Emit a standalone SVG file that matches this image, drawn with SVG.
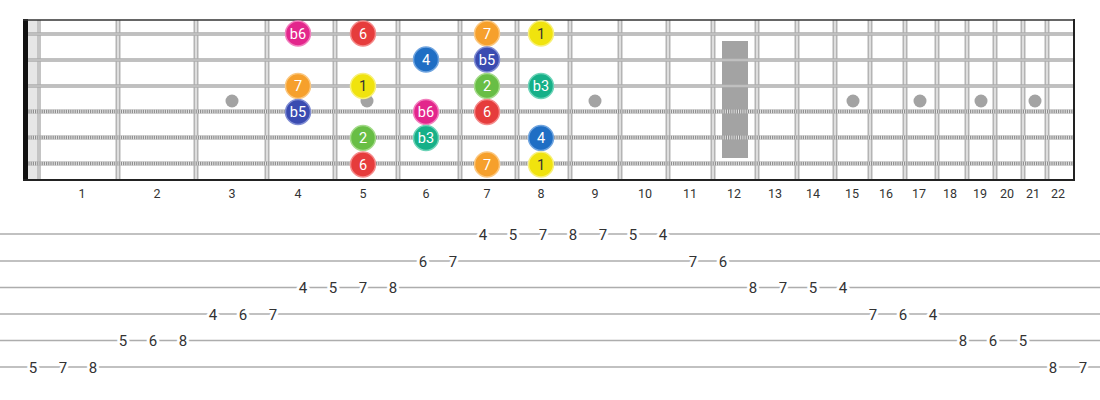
<svg xmlns="http://www.w3.org/2000/svg" width="1100" height="400" viewBox="0 0 1100 400">
<style>
.fret{fill:#b4b4b4}
.fretin{fill:#f0f0f0}
.plain{stroke:#adadad;stroke-width:3.5}
.plainc{stroke:#dcdcdc;stroke-width:0.8}
.wound{stroke:#8f8f8f;stroke-width:4}
.woundp{stroke:#e4e4e4;stroke-width:4;stroke-dasharray:1 1.2}
.inlay{fill:#a3a3a3}
.fn{font-family:Roboto,"Liberation Sans",sans-serif;font-size:12.5px;fill:#333;text-anchor:middle}
.tl{stroke:#adadad;stroke-width:1.6}
.tn{font-family:Roboto,"Liberation Sans",sans-serif;font-size:15px;fill:#333;text-anchor:middle;stroke:#fff;stroke-width:6;paint-order:stroke;stroke-linejoin:round}
.nt{font-family:Roboto,"Liberation Sans",sans-serif;font-size:14.5px;fill:#fff;text-anchor:middle}
.nt1{fill:#333}
.c-b6{fill:#e3268c;stroke:#f27fbd}
.c-6{fill:#e63c3c;stroke:#f48a8a}
.c-7{fill:#f6a02c;stroke:#fbc77f}
.c-1{fill:#f0e30e;stroke:#f8f07a}
.c-4{fill:#1f6ec4;stroke:#6fa4df}
.c-b5{fill:#3a4bb1;stroke:#7f8cd3}
.c-2{fill:#68be45;stroke:#a4da8a}
.c-b3{fill:#16b088;stroke:#6cd3b7}
circle.n{stroke-width:1.5}
</style>
<g id="fretboard">
<rect x="23" y="20" width="1052" height="160" fill="#fff"/>
<rect x="28" y="20" width="13" height="160" fill="#e6e6e6"/>
<rect x="37" y="20" width="4" height="160" fill="#c4c4c4"/>
<g id="frets">
<rect class="fret" x="115.5" y="20" width="5" height="160"/><rect class="fretin" x="117.3" y="20" width="1.4" height="160"/>
<rect class="fret" x="193.5" y="20" width="5" height="160"/><rect class="fretin" x="195.3" y="20" width="1.4" height="160"/>
<rect class="fret" x="264.5" y="20" width="5" height="160"/><rect class="fretin" x="266.3" y="20" width="1.4" height="160"/>
<rect class="fret" x="332.5" y="20" width="5" height="160"/><rect class="fretin" x="334.3" y="20" width="1.4" height="160"/>
<rect class="fret" x="395.5" y="20" width="5" height="160"/><rect class="fretin" x="397.3" y="20" width="1.4" height="160"/>
<rect class="fret" x="457.5" y="20" width="5" height="160"/><rect class="fretin" x="459.3" y="20" width="1.4" height="160"/>
<rect class="fret" x="514.5" y="20" width="5" height="160"/><rect class="fretin" x="516.3" y="20" width="1.4" height="160"/>
<rect class="fret" x="567.5" y="20" width="5" height="160"/><rect class="fretin" x="569.3" y="20" width="1.4" height="160"/>
<rect class="fret" x="617.5" y="20" width="5" height="160"/><rect class="fretin" x="619.3" y="20" width="1.4" height="160"/>
<rect class="fret" x="665.5" y="20" width="5" height="160"/><rect class="fretin" x="667.3" y="20" width="1.4" height="160"/>
<rect class="fret" x="710.5" y="20" width="5" height="160"/><rect class="fretin" x="712.3" y="20" width="1.4" height="160"/>
<rect class="fret" x="754.5" y="20" width="5" height="160"/><rect class="fretin" x="756.3" y="20" width="1.4" height="160"/>
<rect class="fret" x="794.5" y="20" width="5" height="160"/><rect class="fretin" x="796.3" y="20" width="1.4" height="160"/>
<rect class="fret" x="832.5" y="20" width="5" height="160"/><rect class="fretin" x="834.3" y="20" width="1.4" height="160"/>
<rect class="fret" x="867.5" y="20" width="5" height="160"/><rect class="fretin" x="869.3" y="20" width="1.4" height="160"/>
<rect class="fret" x="902.5" y="20" width="5" height="160"/><rect class="fretin" x="904.3" y="20" width="1.4" height="160"/>
<rect class="fret" x="934.5" y="20" width="5" height="160"/><rect class="fretin" x="936.3" y="20" width="1.4" height="160"/>
<rect class="fret" x="964.5" y="20" width="5" height="160"/><rect class="fretin" x="966.3" y="20" width="1.4" height="160"/>
<rect class="fret" x="992.5" y="20" width="5" height="160"/><rect class="fretin" x="994.3" y="20" width="1.4" height="160"/>
<rect class="fret" x="1020.5" y="20" width="5" height="160"/><rect class="fretin" x="1022.3" y="20" width="1.4" height="160"/>
<rect class="fret" x="1044.5" y="20" width="5" height="160"/><rect class="fretin" x="1046.3" y="20" width="1.4" height="160"/>
</g>
<g id="inlays">
<circle class="inlay" cx="232" cy="101" r="6.5"/>
<circle class="inlay" cx="367" cy="101" r="6.5"/>
<circle class="inlay" cx="595" cy="101" r="6.5"/>
<rect class="inlay" x="722" y="41" width="26" height="117"/>
<circle class="inlay" cx="853" cy="101" r="6.5"/>
<circle class="inlay" cx="920" cy="101" r="6.5"/>
<circle class="inlay" cx="981" cy="101" r="6.5"/>
<circle class="inlay" cx="1035" cy="101" r="6.5"/>
</g>
<g id="strings">
<line class="plain" x1="23" y1="34" x2="1075" y2="34"/><line class="plainc" x1="23" y1="34" x2="1075" y2="34"/>
<line class="plain" x1="23" y1="60" x2="1075" y2="60"/><line class="plainc" x1="23" y1="60" x2="1075" y2="60"/>
<line class="plain" x1="23" y1="86" x2="1075" y2="86"/><line class="plainc" x1="23" y1="86" x2="1075" y2="86"/>
<line class="wound" x1="23" y1="111.5" x2="1075" y2="111.5"/><line class="woundp" x1="23" y1="111.5" x2="1075" y2="111.5"/>
<line class="wound" x1="23" y1="137.5" x2="1075" y2="137.5"/><line class="woundp" x1="23" y1="137.5" x2="1075" y2="137.5"/>
<line class="wound" x1="23" y1="163.5" x2="1075" y2="163.5"/><line class="woundp" x1="23" y1="163.5" x2="1075" y2="163.5"/>
</g>
<rect x="23" y="19" width="5" height="162" fill="#111"/>
<line x1="23" y1="20" x2="1075" y2="20" stroke="#333" stroke-width="1.5"/>
<line x1="23" y1="180" x2="1075" y2="180" stroke="#222" stroke-width="2"/>
<line x1="1074" y1="19" x2="1074" y2="181" stroke="#222" stroke-width="2"/>
</g>
<g id="fret-numbers">
<text class="fn" x="82" y="198">1</text><text class="fn" x="157" y="198">2</text><text class="fn" x="232" y="198">3</text><text class="fn" x="298" y="198">4</text><text class="fn" x="363" y="198">5</text><text class="fn" x="426" y="198">6</text><text class="fn" x="487" y="198">7</text><text class="fn" x="541" y="198">8</text><text class="fn" x="595" y="198">9</text><text class="fn" x="645" y="198">10</text><text class="fn" x="690" y="198">11</text><text class="fn" x="734" y="198">12</text><text class="fn" x="775" y="198">13</text><text class="fn" x="813" y="198">14</text><text class="fn" x="852" y="198">15</text><text class="fn" x="886" y="198">16</text><text class="fn" x="919" y="198">17</text><text class="fn" x="950" y="198">18</text><text class="fn" x="980" y="198">19</text><text class="fn" x="1007" y="198">20</text><text class="fn" x="1033" y="198">21</text><text class="fn" x="1058" y="198">22</text>
</g>
<g id="notes">
<g id="n1-4"><circle class="n c-b6" cx="298" cy="33.5" r="12.5"/><text class="nt" x="298" y="38.5">b6</text></g>
<g id="n1-5"><circle class="n c-6" cx="363" cy="33.5" r="12.5"/><text class="nt" x="363" y="38.5">6</text></g>
<g id="n1-7"><circle class="n c-7" cx="487" cy="33.5" r="12.5"/><text class="nt" x="487" y="38.5">7</text></g>
<g id="n1-8"><circle class="n c-1" cx="541" cy="33.5" r="12.5"/><text class="nt nt1" x="541" y="38.5">1</text></g>
<g id="n2-6"><circle class="n c-4" cx="426" cy="59.5" r="12.5"/><text class="nt" x="426" y="64.5">4</text></g>
<g id="n2-7"><circle class="n c-b5" cx="487" cy="59.5" r="12.5"/><text class="nt" x="487" y="64.5">b5</text></g>
<g id="n3-4"><circle class="n c-7" cx="298" cy="86" r="12.5"/><text class="nt" x="298" y="91">7</text></g>
<g id="n3-5"><circle class="n c-1" cx="363" cy="86" r="12.5"/><text class="nt nt1" x="363" y="91">1</text></g>
<g id="n3-7"><circle class="n c-2" cx="487" cy="86" r="12.5"/><text class="nt" x="487" y="91">2</text></g>
<g id="n3-8"><circle class="n c-b3" cx="541" cy="86" r="12.5"/><text class="nt" x="541" y="91">b3</text></g>
<g id="n4-4"><circle class="n c-b5" cx="298" cy="112" r="12.5"/><text class="nt" x="298" y="117">b5</text></g>
<g id="n4-6"><circle class="n c-b6" cx="426" cy="112" r="12.5"/><text class="nt" x="426" y="117">b6</text></g>
<g id="n4-7"><circle class="n c-6" cx="487" cy="112" r="12.5"/><text class="nt" x="487" y="117">6</text></g>
<g id="n5-5"><circle class="n c-2" cx="363" cy="138" r="12.5"/><text class="nt" x="363" y="143">2</text></g>
<g id="n5-6"><circle class="n c-b3" cx="426" cy="138" r="12.5"/><text class="nt" x="426" y="143">b3</text></g>
<g id="n5-8"><circle class="n c-4" cx="541" cy="138" r="12.5"/><text class="nt" x="541" y="143">4</text></g>
<g id="n6-5"><circle class="n c-6" cx="363" cy="164.5" r="12.5"/><text class="nt" x="363" y="169.5">6</text></g>
<g id="n6-7"><circle class="n c-7" cx="487" cy="164.5" r="12.5"/><text class="nt" x="487" y="169.5">7</text></g>
<g id="n6-8"><circle class="n c-1" cx="541" cy="164.5" r="12.5"/><text class="nt nt1" x="541" y="169.5">1</text></g>
</g>
<g id="tab-lines">
<line class="tl" x1="0" y1="234" x2="1100" y2="234"/>
<line class="tl" x1="0" y1="261" x2="1100" y2="261"/>
<line class="tl" x1="0" y1="287.5" x2="1100" y2="287.5"/>
<line class="tl" x1="0" y1="314" x2="1100" y2="314"/>
<line class="tl" x1="0" y1="340.5" x2="1100" y2="340.5"/>
<line class="tl" x1="0" y1="367" x2="1100" y2="367"/>
</g>
<g id="tab-numbers">
<text class="tn" x="33" y="372.5">5</text><text class="tn" x="63" y="372.5">7</text><text class="tn" x="93" y="372.5">8</text>
<text class="tn" x="123" y="346">5</text><text class="tn" x="153" y="346">6</text><text class="tn" x="183" y="346">8</text>
<text class="tn" x="213" y="319.5">4</text><text class="tn" x="243" y="319.5">6</text><text class="tn" x="273" y="319.5">7</text>
<text class="tn" x="303" y="293">4</text><text class="tn" x="333" y="293">5</text><text class="tn" x="363" y="293">7</text><text class="tn" x="393" y="293">8</text>
<text class="tn" x="423" y="266.5">6</text><text class="tn" x="453" y="266.5">7</text>
<text class="tn" x="483" y="239.5">4</text><text class="tn" x="513" y="239.5">5</text><text class="tn" x="543" y="239.5">7</text><text class="tn" x="573" y="239.5">8</text><text class="tn" x="603" y="239.5">7</text><text class="tn" x="633" y="239.5">5</text><text class="tn" x="663" y="239.5">4</text>
<text class="tn" x="693" y="266.5">7</text><text class="tn" x="723" y="266.5">6</text>
<text class="tn" x="753" y="293">8</text><text class="tn" x="783" y="293">7</text><text class="tn" x="813" y="293">5</text><text class="tn" x="843" y="293">4</text>
<text class="tn" x="873" y="319.5">7</text><text class="tn" x="903" y="319.5">6</text><text class="tn" x="933" y="319.5">4</text>
<text class="tn" x="963" y="346">8</text><text class="tn" x="993" y="346">6</text><text class="tn" x="1023" y="346">5</text>
<text class="tn" x="1053" y="372.5">8</text><text class="tn" x="1083" y="372.5">7</text>
</g>
</svg>
